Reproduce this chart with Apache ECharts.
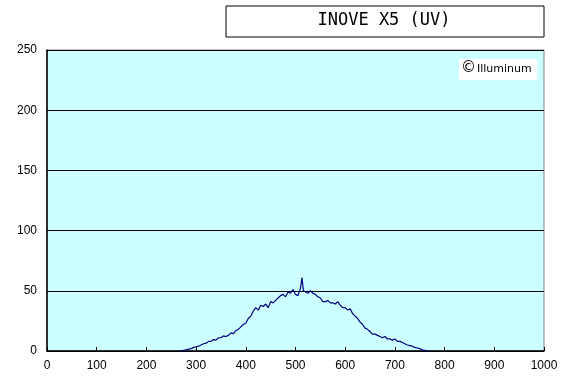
<!DOCTYPE html>
<html><head><meta charset="utf-8">
<script src="https://cdn.jsdelivr.net/npm/echarts@6/dist/echarts.min.js"></script>
<style>html,body{margin:0;padding:0;background:#fff}#c{width:566px;height:378px}</style>
</head><body><div id="c"></div>
<script>
const titleText = "INOVE X5 (UV)";
const watermarkSymbol = "©";
const watermarkText = "Illuminum";
const xTicks = [0,100,200,300,400,500,600,700,800,900,1000];
const yTicks = [0,50,100,150,200,250];
const wavelengths = [265,270,275,280,285,290,295,300,305,310,315,320,325,330,335,340,345,350,355,360,365,370,375,380,385,390,395,400,405,410,415,420,425,430,435,440,445,450,455,460,465,470,475,480,485,490,495,500,505,510,513,516,520,525,530,535,540,545,550,555,560,565,570,575,580,585,590,595,600,605,610,615,620,625,630,635,640,645,650,655,660,665,670,675,680,685,690,695,700,705,710,715,720,725,730,735,740,745,750,755,760,765,770];
const intensity = [0,0,0.5,1,1.5,2,3,3.5,4,5,6,6.5,8,8,9.5,9,11,11,12.5,12,13,15,14.5,17,18,20,22,23,27,29,33,36,34,38,37,39,36,41,40,42,44,46,47,45,49,48,51,47,46,52,61,50,49,48,50,48,47,45,44,41,41,42,40,40,39,41,38,36,36,34,35,31,29,27,24,22,19,18,16,14,14,13,12,11,12,10,10,9,10,8,8,7,6,5,4.5,4,3,2.5,2,1,0.5,0,0];

const chart = echarts.init(document.getElementById('c'), null, {renderer:'canvas'});
const lab = {fontFamily:'Liberation Sans, sans-serif', fontSize:12, color:'#000'};
chart.setOption({
  animation:false,
  backgroundColor:'#fff',
  grid:{left:47,right:22,top:50,bottom:27,show:true,backgroundColor:'#CCFFFF',borderColor:'#808080',borderWidth:1},
  xAxis:{type:'value',min:xTicks[0],max:xTicks[xTicks.length-1],interval:100,
    axisLine:{show:true,onZero:false,lineStyle:{color:'#000',width:1.5}},
    axisTick:{show:true,inside:true,length:4,lineStyle:{color:'#000'}},
    axisLabel:Object.assign({margin:9,formatter:v=>String(v)},lab),
    splitLine:{show:false}},
  yAxis:{type:'value',min:yTicks[0],max:yTicks[yTicks.length-1],interval:50,
    axisLine:{show:true,lineStyle:{color:'#000',width:1.5}},
    axisTick:{show:true,inside:true,length:4,lineStyle:{color:'#000'}},
    axisLabel:Object.assign({margin:10,formatter:v=>String(v)},lab),
    splitLine:{show:true,lineStyle:{color:'#000',width:1}}},
  series:[{type:'line',data:wavelengths.map((w,i)=>[w,intensity[i]]),showSymbol:false,
    lineStyle:{color:'#000080',width:1.2},z:5}],
  graphic:[
    {type:'rect',position:[226,6],shape:{width:318,height:31},style:{fill:'#fff',stroke:'#000',lineWidth:1}},
    {type:'text',position:[384,12],style:{text:titleText,font:'17px "DejaVu Sans Mono", monospace',fill:'#000',textAlign:'center'}},
    {type:'rect',position:[459,59],shape:{width:78,height:21},style:{fill:'#fff'}},
    {type:'text',position:[461,61],style:{text:watermarkSymbol,font:'15px "DejaVu Sans", sans-serif',fill:'#000'}},
    {type:'text',position:[477,64],style:{text:watermarkText,font:'11px "DejaVu Sans", sans-serif',fill:'#000'}}
  ]
});
</script></body></html>
